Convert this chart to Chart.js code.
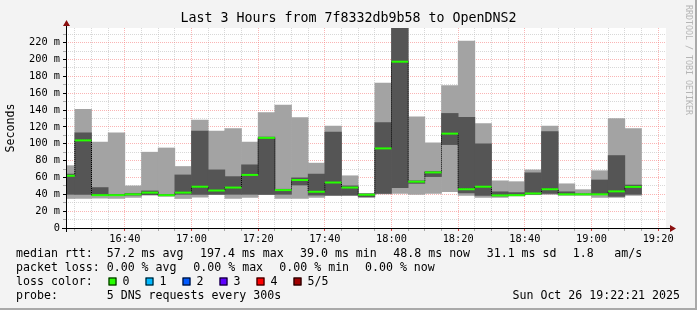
<!DOCTYPE html>
<html>
<head>
<meta charset="utf-8">
<script src="https://cdn.jsdelivr.net/npm/chart.js@4.4.1/dist/chart.umd.min.js"></script>
<style>
    html, body { margin: 0; padding: 0; background: #f3f3f3; }
    #wrap { width: 697px; height: 310px; }
</style>
</head>
<body>
<div id="wrap"><canvas id="smoke_chart" width="697" height="310"></canvas></div>
<script>
// one bar per 5 minute step, labelled with the end of the step
const step_labels = ['16:25', '16:30', '16:35', '16:40', '16:45', '16:50', '16:55',
    '17:00', '17:05', '17:10', '17:15', '17:20', '17:25', '17:30', '17:35', '17:40',
    '17:45', '17:50', '17:55', '18:00', '18:05', '18:10', '18:15', '18:20', '18:25',
    '18:30', '18:35', '18:40', '18:45', '18:50', '18:55', '19:00', '19:05', '19:10', '19:15']

// the 5 sorted pings of each step (ms)
const ping_min    = [35, 35, 35.5, 35, 36.3, 39, 37.5, 35, 36.5, 39.5, 35, 36.3, 39.5, 35, 35, 36.3,
    38.5, 38.5, 36.3, 40.5, 41, 40, 41, 43, 38.7, 36.3, 36.3, 38, 39.5, 40, 38.7, 38.7, 36.3, 36.3, 38.7]
const ping_low    = [40, 40, 38.5, 38.5, 39, 39.5, 38.5, 40, 40, 40, 40, 40, 40, 40, 51, 39,
    39, 39, 37, 41, 48, 53, 61, 99, 41.5, 38.7, 38, 38.5, 40, 41, 39.5, 39.5, 39.5, 37.5, 40]
const ping_median = [62, 104, 39, 39, 40, 42, 39, 42, 49, 44.5, 48, 63, 107, 45, 57, 43,
    54, 48, 39.5, 94.5, 197.4, 55, 66, 112, 46, 49, 38.7, 39, 41, 46, 40, 40, 40, 43.5, 48.8]
const ping_high   = [64, 113, 48, 40, 41, 44, 40, 63, 115, 69, 61, 75, 108, 46, 59.5, 64,
    114, 50, 40.5, 125, 252, 56, 67, 136, 131.5, 100, 43, 42, 65.5, 114.5, 43, 40.5, 57, 86, 51]
const ping_max    = [74, 141, 102, 113, 50, 90, 95, 73, 128, 115, 118, 102, 137, 146, 131, 77,
    121, 62, 41, 172, 268, 132, 101, 169, 222, 124, 56, 55, 69, 121, 52.5, 45.5, 68, 130, 118]

const x_tick_labels = ['16:40', '17:00', '17:20', '17:40', '18:00', '18:20', '18:40', '19:00', '19:20']
const y_tick_values = [0, 20, 40, 60, 80, 100, 120, 140, 160, 180, 200, 220]

const time_start = '16:22:21'
const time_end = '19:22:21'
const y_top = 237.4

const legend_lines = [
    [[16, 'median rtt:'], [106.7, '57.2 ms avg'], [200, '197.4 ms max'], [300, '39.0 ms min'],
     [393.3, '48.8 ms now'], [486.7, '31.1 ms sd'], [572.7, '1.8'], [614.3, 'am/s']],
    [[16, 'packet loss:'], [106.7, '0.00 % avg'], [193.3, '0.00 % max'], [279.3, '0.00 % min'],
     [365, '0.00 % now']],
    [[16, 'loss color:']],
    [[16, 'probe:'], [106.7, '5 DNS requests every 300s']]
]
const loss_labels = ['0', '1', '2', '3', '4', '5/5']
const loss_colors = ['#26ff00', '#00b8ff', '#0059ff', '#5e00ff', '#ff0000', '#a00000']
const stamp = 'Sun Oct 26 19:22:21 2025'

const mono = '"DejaVu Sans Mono", monospace'
const grid_minor = 'rgba(190,190,190,0.6)'
const grid_major = 'rgba(245,120,120,0.55)'

function to_minutes(label) {
    const parts = label.split(':').map(Number)
    return parts[0] * 60 + parts[1] + (parts[2] || 0) / 60
}

function minutes_to_label(m) {
    const h = Math.floor(m / 60)
    const mm = Math.round(m - h * 60)
    return `${h}:${String(mm).padStart(2, '0')}`
}

const x_min = to_minutes(time_start)
const x_max = to_minutes(time_end)
const step_centers = step_labels.map(l => to_minutes(l) - 2.5)
const x_major = x_tick_labels.map(to_minutes)

function half_step_px(ctx) {
    const xs = ctx.chart.scales.x
    return Math.abs(xs.getPixelForValue(5) - xs.getPixelForValue(0)) / 2
}

const smokeping_frame = {
    id: 'smokeping_frame',
    beforeDraw(chart) {
        const { ctx, chartArea: a } = chart
        ctx.save()
        ctx.fillStyle = '#f3f3f3'
        ctx.fillRect(0, 0, chart.width, chart.height)
        ctx.fillStyle = '#a9a9a9'
        ctx.fillRect(chart.width - 2, 0, 2, chart.height)
        ctx.fillRect(0, chart.height - 2, chart.width, 2)
        ctx.fillStyle = '#ffffff'
        ctx.fillRect(a.left, a.top, a.right - a.left, a.bottom - a.top)
        ctx.restore()
    },
    afterDraw(chart) {
        const { ctx, chartArea: a } = chart
        ctx.save()

        // axes with arrows
        ctx.strokeStyle = '#000'
        ctx.lineWidth = 1
        ctx.beginPath()
        ctx.moveTo(a.left - 4, a.bottom + 0.5)
        ctx.lineTo(a.right + 6, a.bottom + 0.5)
        ctx.moveTo(a.left + 0.5, a.bottom + 4)
        ctx.lineTo(a.left + 0.5, a.top - 4)
        ctx.stroke()
        ctx.fillStyle = '#8b1010'
        ctx.beginPath()
        ctx.moveTo(a.right + 10, a.bottom + 0.5)
        ctx.lineTo(a.right + 4, a.bottom - 3)
        ctx.lineTo(a.right + 4, a.bottom + 4)
        ctx.closePath()
        ctx.moveTo(a.left + 0.5, a.top - 8)
        ctx.lineTo(a.left - 3, a.top - 2)
        ctx.lineTo(a.left + 4, a.top - 2)
        ctx.closePath()
        ctx.fill()

        ctx.fillStyle = '#000'
        ctx.textBaseline = 'middle'
        ctx.textAlign = 'center'
        ctx.font = `13.3px ${mono}`
        ctx.fillText('Last 3 Hours from 7f8332db9b58 to OpenDNS2', 348.5, 19)

        ctx.font = `11.6px ${mono}`
        ctx.save()
        ctx.translate(11, 128)
        ctx.rotate(-Math.PI / 2)
        ctx.fillText('Seconds', 0, 0)
        ctx.restore()

        ctx.save()
        ctx.fillStyle = '#b5b5b5'
        ctx.font = `8.3px ${mono}`
        ctx.translate(688, 60)
        ctx.rotate(Math.PI / 2)
        ctx.fillText('RRDTOOL / TOBI OETIKER', 0, 0)
        ctx.restore()

        ctx.textAlign = 'left'
        ctx.font = `11.6px ${mono}`
        const line_y = [254.3, 268.3, 282, 296.3]
        legend_lines.forEach((line, i) => {
            line.forEach(([x, text]) => ctx.fillText(text, x, line_y[i]))
        })
        loss_colors.forEach((color, i) => {
            const x = 108.5 + i * 37
            ctx.fillStyle = color
            ctx.fillRect(x, 277.5, 8, 8)
            ctx.strokeStyle = '#000'
            ctx.strokeRect(x + 0.5, 277.5 + 0.5, 7, 7)
            ctx.fillStyle = '#000'
            ctx.fillText(loss_labels[i], x + 14, line_y[2])
        })
        ctx.textAlign = 'right'
        ctx.fillText(stamp, 680, line_y[3])
        ctx.restore()
    }
}

const canvas_chart = document.getElementById('smoke_chart')

new Chart(canvas_chart, {
    type: 'bar',
    data: {
        datasets: [
            {
                type: 'line',
                label: 'median rtt',
                data: step_centers.map((x, i) => ({ x: x, y: ping_median[i] })),
                stepped: 'middle',
                borderColor: '#000',
                borderWidth: 1,
                borderDash: [1, 1],
                pointStyle: 'line',
                pointRadius: half_step_px,
                pointHoverRadius: half_step_px,
                pointBorderColor: loss_colors[0],
                pointBorderWidth: 2,
                pointHoverBorderWidth: 2,
                clip: 0,
                order: 0
            },
            {
                label: 'inner smoke',
                data: step_centers.map((x, i) => ({ x: x, y: [ping_low[i], ping_high[i]] })),
                backgroundColor: '#555555',
                borderWidth: 0,
                grouped: false,
                barPercentage: 1,
                categoryPercentage: 1,
                clip: 0,
                order: 1
            },
            {
                label: 'outer smoke',
                data: step_centers.map((x, i) => ({ x: x, y: [ping_min[i], ping_max[i]] })),
                backgroundColor: '#a3a3a3',
                borderWidth: 0,
                grouped: false,
                barPercentage: 1,
                categoryPercentage: 1,
                clip: 0,
                order: 2
            }
        ]
    },
    options: {
        responsive: false,
        animation: false,
        devicePixelRatio: 1,
        events: [],
        layout: { padding: { top: 28, right: 31, bottom: 0, left: 0 } },
        plugins: {
            legend: { display: false },
            tooltip: { enabled: false },
            title: { display: false }
        },
        scales: {
            x: {
                type: 'linear',
                offset: false,
                min: x_min,
                max: x_max,
                afterFit: scale => { scale.height = 82 },
                afterBuildTicks: scale => {
                    const ticks = []
                    for (let m = Math.ceil(x_min / 5) * 5; m < x_max; m += 5) ticks.push({ value: m })
                    scale.ticks = ticks
                },
                ticks: {
                    autoSkip: false,
                    maxRotation: 0,
                    minRotation: 0,
                    padding: 2,
                    color: '#000',
                    font: { family: mono, size: 10.3 },
                    callback: v => x_major.includes(v) ? minutes_to_label(v) : ''
                },
                grid: {
                    offset: false,
                    lineWidth: 1,
                    tickLength: 3,
                    color: ctx => x_major.includes(ctx.tick && ctx.tick.value) ? grid_major : grid_minor,
                    tickColor: ctx => x_major.includes(ctx.tick && ctx.tick.value) ? '#d04040' : '#aaaaaa'
                },
                border: { display: false, dash: [1, 1] }
            },
            y: {
                type: 'linear',
                min: 0,
                max: y_top,
                afterFit: scale => { scale.width = 66 },
                afterBuildTicks: scale => {
                    const ticks = []
                    for (let v = 0; v < y_top; v += 10) ticks.push({ value: v })
                    scale.ticks = ticks
                },
                ticks: {
                    autoSkip: false,
                    padding: 3,
                    color: '#000',
                    font: { family: mono, size: 10.3 },
                    callback: v => y_tick_values.includes(v) ? (v === 0 ? '0' : `${v} m`) : ''
                },
                grid: {
                    lineWidth: 1,
                    tickLength: 3,
                    color: ctx => y_tick_values.includes(ctx.tick && ctx.tick.value) ? grid_major : grid_minor,
                    tickColor: ctx => y_tick_values.includes(ctx.tick && ctx.tick.value) ? '#000' : '#aaaaaa'
                },
                border: { display: false, dash: [1, 1] }
            }
        }
    },
    plugins: [smokeping_frame]
});
</script>
</body>
</html>
